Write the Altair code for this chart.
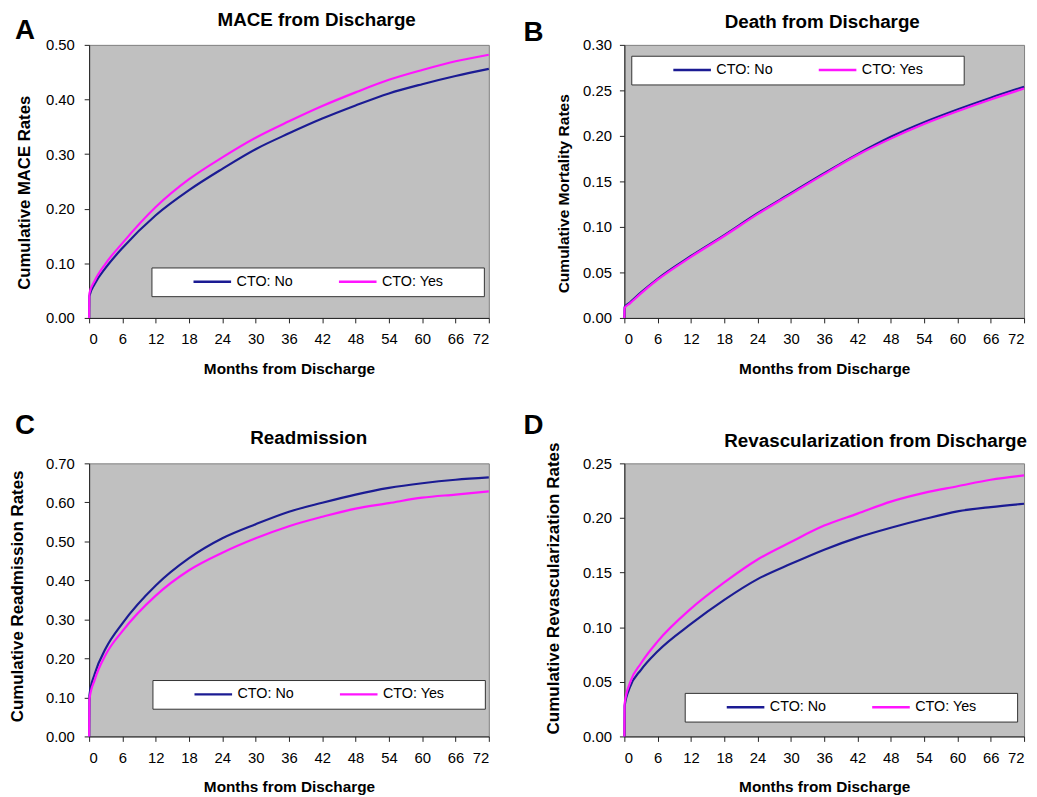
import altair as alt
import pandas as pd

FONT = "Liberation Sans"

months = [0, 0.05, 1, 3, 6, 12, 18, 24, 30, 36, 42, 48, 54, 60, 66, 72]
groups = ["CTO: No", "CTO: Yes"]
colors = ["#1B1B93", "#FF14FF"]
x_ticks = [0, 6, 12, 18, 24, 30, 36, 42, 48, 54, 60, 66, 72]

mace_no = [0, 0.040, 0.062, 0.092, 0.128, 0.188, 0.234, 0.273, 0.309, 0.338, 0.365, 0.389, 0.411, 0.428, 0.443, 0.456]
mace_yes = [0, 0.045, 0.068, 0.100, 0.137, 0.203, 0.254, 0.294, 0.330, 0.360, 0.388, 0.413, 0.436, 0.454, 0.470, 0.482]

death_no = [0, 0.012, 0.017, 0.028, 0.043, 0.068, 0.091, 0.115, 0.137, 0.159, 0.180, 0.199, 0.215, 0.229, 0.242, 0.254]
death_yes = [0, 0.011, 0.016, 0.027, 0.042, 0.067, 0.090, 0.114, 0.136, 0.158, 0.179, 0.197, 0.213, 0.227, 0.240, 0.252]

readm_no = [0, 0.105, 0.160, 0.226, 0.290, 0.387, 0.457, 0.508, 0.544, 0.576, 0.599, 0.620, 0.637, 0.649, 0.658, 0.664]
readm_yes = [0, 0.095, 0.145, 0.210, 0.270, 0.361, 0.426, 0.471, 0.508, 0.539, 0.563, 0.584, 0.598, 0.612, 0.620, 0.628]

revasc_no = [0, 0.028, 0.045, 0.061, 0.078, 0.103, 0.125, 0.144, 0.158, 0.171, 0.182, 0.191, 0.199, 0.206, 0.210, 0.213]
revasc_yes = [0, 0.030, 0.049, 0.067, 0.087, 0.117, 0.141, 0.162, 0.178, 0.193, 0.204, 0.215, 0.223, 0.229, 0.235, 0.239]

# invisible (blank) glyphs used to give the legend frame its right-hand margin
BLANK_PAD = "\u2800" * 3


def panel(letter, title, ytitle, no, yes, ymax, ystep, title_dx, title_offset,
          ytitle_size, ylabel_pad, ytitle_pad, ytitle_y, leg_x, leg_y, letter_x, letter_y):
    n = len(months)
    df = pd.DataFrame({
        "Month": months * 2,
        "Rate": no + yes,
        "Group": [groups[0]] * n + [groups[1]] * n,
    })
    nticks = int(round(ymax / ystep))
    y_ticks = [round(i * ystep, 4) for i in range(nticks + 1)]
    lines = alt.Chart(df).mark_line(strokeWidth=2.2, interpolate="monotone").encode(
        x=alt.X("Month:Q", scale=alt.Scale(domain=[0, 72], nice=False),
                axis=alt.Axis(values=x_ticks, title="Months from Discharge", format="d")),
        y=alt.Y("Rate:Q", scale=alt.Scale(domain=[0, ymax], nice=False),
                axis=alt.Axis(values=y_ticks, format=".2f", title=ytitle,
                              labelPadding=ylabel_pad,
                              titleFontSize=ytitle_size,
                              titlePadding=ytitle_pad, titleY=ytitle_y)),
        color=alt.Color("Group:N", scale=alt.Scale(domain=groups, range=colors),
                        legend=alt.Legend(
                            title="\u00a0", titleOrient="left", titlePadding=34,
                            titleFontSize=14,
                            orient="none", legendX=leg_x, legendY=leg_y,
                            direction="horizontal", symbolType="stroke",
                            symbolSize=1444, symbolStrokeWidth=2.5, clipHeight=14.5,
                            labelFontSize=14.5, labelFont=FONT, labelColor="black",
                            labelOffset=4, columnPadding=45, padding=7,
                            fillColor="white", strokeColor="#333333",
                            labelExpr=f"datum.label == 'CTO: Yes' ? datum.label + '{BLANK_PAD}' : datum.label",
                        )),
    )
    tag = alt.Chart(pd.DataFrame({"t": [letter]})).mark_text(
        fontSize=28, fontWeight="bold", font=FONT, align="left",
        baseline="alphabetic", color="black"
    ).encode(text="t:N", x=alt.value(letter_x), y=alt.value(letter_y))
    return alt.layer(lines, tag).properties(
        width=404, height=276,
        title=alt.TitleParams(title, anchor="middle", frame="group", dx=title_dx,
                              offset=title_offset, fontSize=19, font=FONT,
                              fontWeight="bold", color="black", baseline="alphabetic"),
    )


pA = panel("A", "MACE from Discharge", "Cumulative MACE Rates", mace_no, mace_yes,
           0.5, 0.1, 28, -27.5, 16.9, 10, 12, 149, 63, 225, -75, -5.5)
pB = panel("B", "Death from Discharge", "Cumulative Mortality Rates", death_no, death_yes,
           0.3, 0.05, -2, -27, 15.7, 8, 11, 150, 7, 11, -102, -3.5)
pC = panel("C", "Readmission", "Cumulative Readmission Rates", readm_no, readm_yes,
           0.7, 0.1, 20, -51, 17.1, 10, 19, 134, 64, 219, -75, -29.5)
pD = panel("D", "Revascularization from Discharge", "Cumulative Revascularization Rates",
           revasc_no, revasc_yes, 0.25, 0.05, 52, -54, 17.2, 8, 20, 126, 61, 232, -102, -29.5)

chart = alt.concat(pA, pB, pC, pD, columns=2,
                   spacing={"row": 35, "column": 29}).resolve_scale(
    color="independent"
).properties(
    padding={"left": 0, "top": -2, "right": 0, "bottom": 0}
).configure(
    font=FONT
).configure_view(
    fill="#C0C0C0", stroke="#808080", strokeWidth=1
).configure_axis(
    domainColor="#222222", tickColor="#222222", tickSize=5, grid=False,
    labelFont=FONT, labelFontSize=15, labelColor="black",
    titleFont=FONT, titleFontSize=15.5, titleFontWeight="bold", titleColor="black",
).configure_axisX(
    labelPadding=9, titlePadding=15
)

chart.save("out.html", embed_options={"renderer": "svg", "actions": False})
